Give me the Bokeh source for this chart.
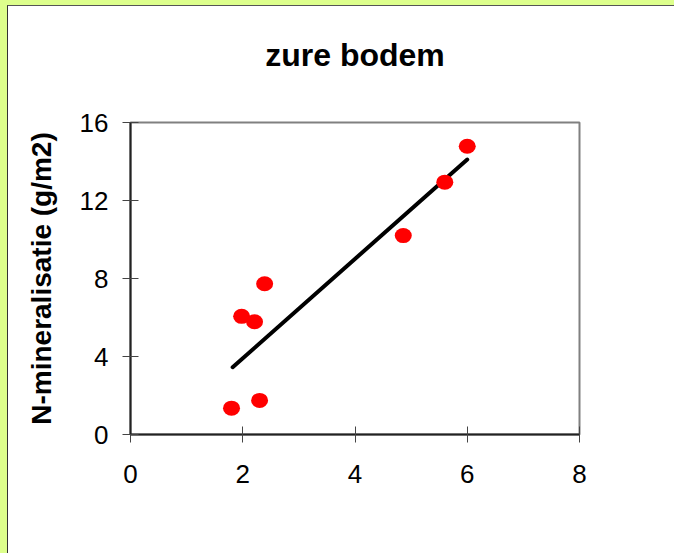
from bokeh.plotting import figure
from bokeh.models import Range1d, FixedTicker
from bokeh.layouts import column
from bokeh.embed import file_html
from bokeh.resources import INLINE

# data
ph_values = [1.80, 2.30, 1.98, 2.21, 2.39, 4.86, 5.60, 6.00]
n_mineralisatie = [1.35, 1.75, 6.06, 5.78, 7.73, 10.20, 12.94, 14.78]
trend_x = [1.82, 6.00]
trend_y = [3.45, 14.10]
x_ticks = [0, 2, 4, 6, 8]
y_ticks = [0, 4, 8, 12, 16]
title_text = "zure bodem"
y_label = "N-mineralisatie (g/m2)"

FONT = "Liberation Sans"
OX, OY = 8, 6          # where the white chart area starts on the page
W, H = 674 - OX, 553 - OY

fig = figure(width=W, height=H, output_backend="svg", toolbar_location=None,
             x_range=Range1d(0, 8), y_range=Range1d(0, 16),
             min_border_left=130 - OX, min_border_right=674 - 579,
             min_border_top=122 - OY, min_border_bottom=553 - 434,
             title=title_text + "\n ")

fig.background_fill_color = "white"
fig.border_fill_color = "white"
fig.outline_line_color = "#808080"
fig.outline_line_width = 2
fig.xgrid.visible = False
fig.ygrid.visible = False

fig.title.text_font = FONT
fig.title.text_font_size = "32px"
fig.title.text_font_style = "bold"
fig.title.text_color = "black"
fig.title.align = "center"
fig.title.text_line_height = 1.25
fig.title.offset = -5

for ax in (fig.xaxis[0], fig.yaxis[0]):
    ax.axis_line_color = "#222222"
    ax.axis_line_width = 2
    ax.major_tick_line_color = "#444444"
    ax.major_tick_line_width = 1
    ax.major_tick_in = 8
    ax.major_tick_out = 8
    ax.minor_tick_line_color = None
    ax.major_label_text_font = FONT
    ax.major_label_text_font_size = "26px"
    ax.major_label_text_color = "black"

fig.xaxis[0].ticker = FixedTicker(ticks=x_ticks)
fig.yaxis[0].ticker = FixedTicker(ticks=y_ticks)
fig.xaxis[0].major_label_standoff = 22
fig.yaxis[0].major_label_standoff = 14

fig.yaxis[0].axis_label = y_label
fig.yaxis[0].axis_label_text_font = FONT
fig.yaxis[0].axis_label_text_font_size = "28px"
fig.yaxis[0].axis_label_text_font_style = "bold"
fig.yaxis[0].axis_label_text_color = "black"
fig.yaxis[0].axis_label_standoff = 20

fig.line(trend_x, trend_y, line_color="black", line_width=4, line_cap="round")
fig.ellipse(x=ph_values, y=n_mineralisatie, width=17, height=15,
            width_units="screen", height_units="screen",
            fill_color="#FF0000", line_color=None)

inner = column(fig, styles={"border-left": "1px solid #333333",
                            "border-top": "1px solid #555555"})
p = column(inner, styles={"border-left": "7px solid #DDFF8C",
                          "border-top": "5px solid #DDFF8C"})

open("out.html", "w").write(file_html(p, INLINE))
